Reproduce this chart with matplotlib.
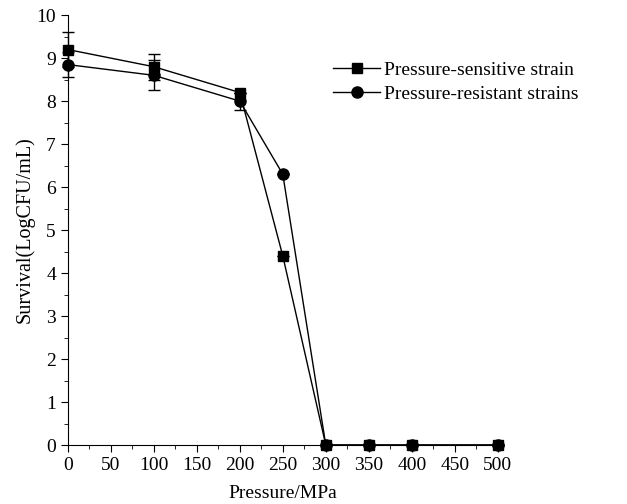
import matplotlib.pyplot as plt

plt.rcParams['font.family'] = ['Liberation Serif', 'DejaVu Serif']

pressure = [0, 100, 200, 250, 300, 350, 400, 500]
sensitive = [9.2, 8.8, 8.2, 4.4, 0, 0, 0, 0]
sensitive_err = [0.4, 0.3, 0, 0, 0, 0, 0, 0]
resistant = [8.85, 8.6, 8.0, 6.3, 0, 0, 0, 0]
resistant_err = [0.3, 0.35, 0.2, 0, 0, 0, 0, 0]

fig = plt.figure(figsize=(6.27, 5.04), dpi=100)
ax = fig.add_axes([0.108, 0.117, 0.686, 0.853])

# error bars only, lines+markers drawn separately for a clean legend
ax.errorbar(pressure, sensitive, yerr=sensitive_err, fmt="none", ecolor="k",
            capsize=4, elinewidth=1, clip_on=False)
ax.errorbar(pressure, resistant, yerr=resistant_err, fmt="none", ecolor="k",
            capsize=4, elinewidth=1, clip_on=False)
ax.plot(pressure, sensitive, "k-", marker="s", ms=7, lw=1,
        label="Pressure-sensitive strain", clip_on=False, zorder=3)
ax.plot(pressure, resistant, "k-", marker="o", ms=8, lw=1,
        label="Pressure-resistant strains", clip_on=False, zorder=3)

ax.set_xlim(0, 500)
ax.set_ylim(0, 10)
ax.set_xticks(range(0, 501, 50))
ax.set_xticks(range(0, 501, 25), minor=True)
ax.set_yticks(range(0, 11))
ax.set_yticks([i * 0.5 for i in range(21)], minor=True)
ax.spines["top"].set_visible(False)
ax.spines["right"].set_visible(False)
ax.tick_params(direction="out", length=5, labelsize=14)
ax.tick_params(which="minor", direction="out", length=3)
ax.set_xlabel("Pressure/MPa", fontsize=14, labelpad=8)
ax.set_ylabel("Survival(LogCFU/mL)", fontsize=14.5, labelpad=1)

ax.legend(loc="upper left", bbox_to_anchor=(0.577, 0.934), frameon=False, fontsize=14,
          handlelength=2.4, handletextpad=0.2, labelspacing=0.35)

fig.savefig("out.png", dpi=100)
